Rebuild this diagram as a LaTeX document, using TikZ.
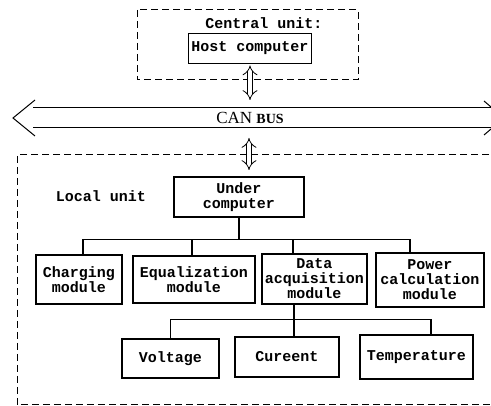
\documentclass[tikz,border=0pt]{standalone}
\usepackage{fontspec}
\setmonofont{Liberation Mono}
\newfontfamily\busfont{Liberation Serif}
\usetikzlibrary{arrows.meta}
\begin{document}
\begin{tikzpicture}[x=1pt,y=-1pt,
  font=\ttfamily\bfseries\fontsize{15}{15}\selectfont,
  box/.style={draw,line width=1.3pt,align=center,inner sep=1pt},
  frame/.style={dash pattern=on 7pt off 4pt,line width=1pt},
  link/.style={line width=1.2pt},
  twoway/.style={double,double distance=4.5pt,line width=0.8pt,{Implies[scale=1.4]}-{Implies[scale=1.4]}}]
\useasboundingbox (0,0) rectangle (491,406);
\clip (0,0) rectangle (491,406);

\draw[frame] (137,10) rectangle (358,80);
\node (central) at (264,23) {Central unit:};
\node[box,line width=0.8pt,minimum width=123pt,minimum height=30pt] (host) at (250,48) {Host computer};

\coordinate (busL) at (13,118);
\coordinate (busR) at (504,118);
\coordinate (busN) at (250,107);
\coordinate (busS) at (249,129);
\begin{scope}[line width=1pt]
\draw (33,108) -- (491,108) (33,128) -- (491,128);
\draw (35,100) -- (busL) -- (35,136);
\draw (484,101) -- (busR) -- (484,135);
\end{scope}
\node[font=\busfont\fontsize{17}{17}\selectfont] (bus) at (250,118) {CAN {\bfseries\fontsize{14}{14}\selectfont BUS}};

\draw[twoway,shorten <=2pt,shorten >=7pt] (host.south) -- (host.south |- busN);
\draw[twoway,shorten <=9pt,shorten >=7pt] (busS) -- (busS |- 0,177);

\draw[frame] (500,155) -| (17,405) -- (500,405);
\node (local) at (101,196) {Local unit};
\node[box,minimum width=130pt,minimum height=40pt] (under) at (239,197) {Under\\computer};

\node[box,minimum width=86pt,minimum height=49pt] (chg) at (79,279.5) {Charging\\module};
\node[box,minimum width=122pt,minimum height=47pt] (equ) at (194,279.5) {Equalization\\module};
\node[box,minimum width=105pt,minimum height=50pt] (daq) at (314.5,279) {Data\\acquisition\\module};
\node[box,minimum width=108pt,minimum height=54pt] (pow) at (430,280) {Power\\calculation\\module};

\node[box,minimum width=97pt,minimum height=39pt] (volt) at (170.5,358.5) {Voltage};
\node[box,minimum width=104pt,minimum height=40pt] (cur) at (287,357) {Cureent};
\node[box,minimum width=113pt,minimum height=44pt] (temp) at (416.5,357) {Temperature};

\draw[link] (under.south) -- ++(0,22) coordinate (j1);
\draw[link] ([xshift=4pt]chg.north) |- (j1) -| ([xshift=-20pt]pow.north);
\draw[link] ([xshift=-2pt]equ.north) -- ([xshift=-2pt]equ.north |- j1);
\draw[link] ([xshift=-21.5pt]daq.north) -- ([xshift=-21.5pt]daq.north |- j1);

\draw[link] ([xshift=-20.5pt]daq.south) -- ++(0,15) coordinate (j2);
\draw[link] (volt.north) |- (j2) -| ([xshift=14.5pt]temp.north);
\draw[link] ([xshift=7pt]cur.north) -- ([xshift=7pt]cur.north |- j2);

\end{tikzpicture}
\end{document}
